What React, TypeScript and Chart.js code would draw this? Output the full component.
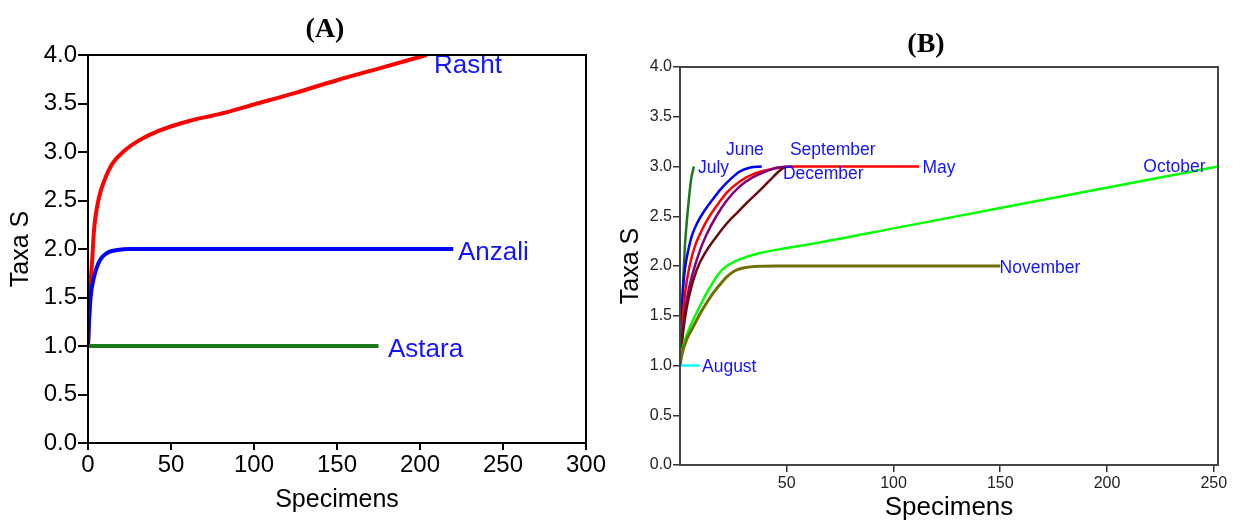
import React, { useEffect, useRef } from 'react';
import { Chart, registerables } from 'chart.js';

Chart.register(...registerables);

// ---------- Panel A data ----------
const rashtX = [0, 1, 2.5, 3.6, 6.6, 9.7, 14.7, 21.7, 30.8, 42.9, 61, 79, 100, 125, 150, 175, 204];
const rashtY = [1, 1.51, 1.88, 2.19, 2.53, 2.7, 2.88, 3.01, 3.12, 3.22, 3.32, 3.39, 3.49, 3.61, 3.74, 3.86, 4.0];
const anzaliX = [0, 0.5, 1.6, 3.6, 6.2, 8.7, 12.7, 17.7, 25, 220];
const anzaliY = [1, 1.2, 1.51, 1.71, 1.85, 1.92, 1.97, 1.99, 2, 2];
const astaraX = [0, 175];
const astaraY = [1, 1];

const seriesNamesA = ['Rasht', 'Anzali', 'Astara'];
const labelAX = [208.4, 222.9, 180.7];
const labelAY = [3.89, 1.96, 0.96];

const xTicksA = [0, 50, 100, 150, 200, 250, 300];

// ---------- Panel B data ----------
const julyX = [0, 0.8, 1.6, 2.3, 3.2, 4.2, 5.2, 6.5];
const julyY = [1, 1.5, 1.9, 2.2, 2.45, 2.68, 2.87, 3.0];
const juneX = [0, 0.7, 1.5, 2.5, 4, 5.5, 8, 11, 15, 19, 24, 28, 33, 38.3];
const juneY = [1, 1.5, 1.8, 2.0, 2.17, 2.3, 2.43, 2.54, 2.66, 2.77, 2.88, 2.95, 2.99, 3.0];
const mayX = [0, 1, 2.5, 4.5, 7, 10, 13, 17, 22, 28, 34, 40, 47, 55, 112];
const mayY = [1, 1.4, 1.75, 2.0, 2.2, 2.35, 2.47, 2.6, 2.74, 2.85, 2.92, 2.96, 2.99, 3.0, 3.0];
const septemberX = [0, 1.5, 3.5, 6, 9.4, 12.5, 17, 22, 28, 34, 40, 46, 52.7];
const septemberY = [1, 1.4, 1.7, 1.93, 2.16, 2.32, 2.5, 2.66, 2.8, 2.89, 2.95, 2.99, 3.0];
const decemberX = [0, 1, 2.5, 4.5, 7.8, 12, 17.2, 22, 26.5, 32, 37.4, 42, 46.8, 49.5];
const decemberY = [1, 1.25, 1.5, 1.72, 1.96, 2.14, 2.3, 2.43, 2.53, 2.65, 2.76, 2.86, 2.96, 3.0];
const novemberX = [0, 1, 3.1, 6.2, 9.4, 12.5, 15.6, 19, 21.9, 25.5, 29.6, 35, 45, 150];
const novemberY = [1, 1.12, 1.26, 1.39, 1.52, 1.63, 1.73, 1.82, 1.89, 1.95, 1.98, 1.995, 2, 2];
const octoberX = [0, 1, 3, 6.2, 9.4, 12, 15, 18, 21.9, 26, 31, 37.4, 50, 65, 100, 150, 252];
const octoberY = [1, 1.15, 1.3, 1.46, 1.6, 1.71, 1.82, 1.92, 2.0, 2.05, 2.09, 2.13, 2.18, 2.235, 2.378, 2.583, 3.0];
const augustX = [0, 9.3];
const augustY = [1, 1];

const seriesNamesB = ['July', 'June', 'September', 'December', 'May', 'October', 'November', 'August'];
const labelBX = [8.4, 21.5, 51.5, 48.2, 113.6, 217, 149.7, 10.3];
const labelBY = [2.98, 3.16, 3.16, 2.92, 2.98, 2.99, 1.98, 0.98];

const xTicksB = [50, 100, 150, 200, 250];

const yTicksMax = 4.0;

const SANS = '"Liberation Sans", Arial, sans-serif';
const SERIF = '"Liberation Serif", "Times New Roman", serif';
const LABEL_BLUE = '#1414ff';

function pts(xs: number[], ys: number[]) {
  return xs.map((x, i) => ({ x, y: ys[i] }));
}

function makeBoxPlugin(color: string, width: number) {
  return {
    id: 'box',
    afterDraw(chart: any) {
      const { ctx, chartArea } = chart;
      ctx.save();
      ctx.strokeStyle = color;
      ctx.lineWidth = width;
      ctx.strokeRect(chartArea.left, chartArea.top, chartArea.right - chartArea.left, chartArea.bottom - chartArea.top);
      ctx.restore();
    },
  };
}

function makeLabelPlugin(names: string[], lx: number[], ly: number[], fontSize: number) {
  return {
    id: 'endLabels',
    afterDatasetsDraw(chart: any) {
      const { ctx, scales } = chart;
      ctx.save();
      ctx.font = `${fontSize}px ${SANS}`;
      ctx.fillStyle = LABEL_BLUE;
      ctx.textAlign = 'left';
      ctx.textBaseline = 'middle';
      names.forEach((n, i) => {
        ctx.fillText(n, scales.x.getPixelForValue(lx[i]), scales.y.getPixelForValue(ly[i]));
      });
      ctx.restore();
    },
  };
}

function makeTitlePlugin(text: string, x: number, y: number) {
  return {
    id: 'panelTitle',
    afterDraw(chart: any) {
      const { ctx } = chart;
      ctx.save();
      ctx.font = `bold 28px ${SERIF}`;
      ctx.fillStyle = '#000';
      ctx.textAlign = 'center';
      ctx.textBaseline = 'middle';
      ctx.fillText(text, x, y);
      ctx.restore();
    },
  };
}

function ds(xs: number[], ys: number[], color: string, width: number) {
  return {
    data: pts(xs, ys),
    borderColor: color,
    backgroundColor: color,
    borderWidth: width,
    pointRadius: 0,
    fill: false,
    cubicInterpolationMode: 'monotone',
  };
}

function configA(): any {
  return {
    type: 'line',
    data: {
      datasets: [
        ds(astaraX, astaraY, '#1a7a1a', 4),
        ds(anzaliX, anzaliY, '#0000ff', 4),
        ds(rashtX, rashtY, '#ff0000', 4),
      ],
    },
    options: {
      responsive: false,
      animation: false,
      devicePixelRatio: 1,
      layout: { padding: { left: 0, top: 55, right: 30, bottom: 0 } },
      plugins: { legend: { display: false }, tooltip: { enabled: false }, title: { display: false } },
      scales: {
        x: {
          type: 'linear',
          min: 0,
          max: 300,
          afterFit: (s: any) => { s.height = 80; },
          afterBuildTicks: (s: any) => { s.ticks = xTicksA.map((v) => ({ value: v })); },
          ticks: { autoSkip: false, maxRotation: 0, padding: 1, color: '#000', font: { family: SANS, size: 24 } },
          grid: { display: true, drawOnChartArea: false, drawTicks: true, tickLength: 7, color: '#000', lineWidth: 2 },
          border: { display: true, color: '#000', width: 2 },
          title: { display: true, text: 'Specimens', color: '#000', font: { family: SANS, size: 25 }, padding: { top: 0, bottom: 8 } },
        },
        y: {
          type: 'linear',
          min: 0,
          max: yTicksMax,
          afterFit: (s: any) => { s.width = 88; },
          ticks: { stepSize: 0.5, autoSkip: false, padding: 1, color: '#000', font: { family: SANS, size: 24 }, callback: (v: any) => Number(v).toFixed(1) },
          grid: { display: true, drawOnChartArea: false, drawTicks: true, tickLength: 10, color: '#000', lineWidth: 2 },
          border: { display: true, color: '#000', width: 2 },
          title: { display: true, text: 'Taxa S', color: '#000', font: { family: SANS, size: 25 }, padding: { top: 6, bottom: 0 } },
        },
      },
    },
    plugins: [makeBoxPlugin('#000', 2), makeLabelPlugin(seriesNamesA, labelAX, labelAY, 26), makeTitlePlugin('(A)', 325, 30)],
  };
}

function configB(): any {
  return {
    type: 'line',
    data: {
      datasets: [
        ds(augustX, augustY, '#00ffff', 2.5),
        ds(novemberX, novemberY, '#707000', 3),
        ds(octoberX, octoberY, '#00ff00', 2.5),
        ds(decemberX, decemberY, '#6b0a0a', 2.5),
        ds(septemberX, septemberY, '#800080', 2.5),
        ds(mayX, mayY, '#ff0000', 2.5),
        ds(juneX, juneY, '#0000ff', 2.5),
        ds(julyX, julyY, '#1a7a1a', 2.5),
      ],
    },
    options: {
      responsive: false,
      animation: false,
      devicePixelRatio: 1,
      layout: { padding: { left: 0, top: 67, right: 15, bottom: 0 } },
      plugins: { legend: { display: false }, tooltip: { enabled: false }, title: { display: false } },
      scales: {
        x: {
          type: 'linear',
          min: 0,
          max: 252,
          afterFit: (s: any) => { s.height = 58; },
          afterBuildTicks: (s: any) => { s.ticks = xTicksB.map((v) => ({ value: v })); },
          ticks: { autoSkip: false, maxRotation: 0, padding: 2, color: '#222', font: { family: SANS, size: 16 } },
          grid: { display: true, drawOnChartArea: false, drawTicks: true, tickLength: 7, color: '#333', lineWidth: 1.5 },
          border: { display: true, color: '#444', width: 2 },
          title: { display: true, text: 'Specimens', color: '#000', font: { family: SANS, size: 26 }, padding: { top: 0, bottom: 0 } },
        },
        y: {
          type: 'linear',
          min: 0,
          max: yTicksMax,
          afterFit: (s: any) => { s.width = 64; },
          ticks: { stepSize: 0.5, autoSkip: false, padding: 1, color: '#222', font: { family: SANS, size: 16 }, callback: (v: any) => Number(v).toFixed(1) },
          grid: { display: true, drawOnChartArea: false, drawTicks: true, tickLength: 7, color: '#333', lineWidth: 1.5 },
          border: { display: true, color: '#444', width: 2 },
          title: { display: true, text: 'Taxa S', color: '#000', font: { family: SANS, size: 25 }, padding: { top: 0, bottom: 0 } },
        },
      },
    },
    plugins: [makeBoxPlugin('#444', 2), makeLabelPlugin(seriesNamesB, labelBX, labelBY, 17.5), makeTitlePlugin('(B)', 310, 45)],
  };
}

function Panel({ left, width, makeConfig }: { left: number; width: number; makeConfig: () => any }) {
  const ref = useRef<HTMLCanvasElement | null>(null);
  useEffect(() => {
    if (!ref.current) return;
    const chart = new Chart(ref.current, makeConfig());
    return () => chart.destroy();
  }, [makeConfig]);
  return (
    <canvas
      ref={ref}
      width={width}
      height={523}
      style={{ position: 'absolute', left, top: 0, width, height: 523 }}
    />
  );
}

export default function App() {
  return (
    <div style={{ position: 'absolute', left: 0, top: 0, width: 1233, height: 523, background: '#fff', overflow: 'hidden' }}>
      <Panel left={0} width={616} makeConfig={configA} />
      <Panel left={616} width={617} makeConfig={configB} />
    </div>
  );
}
